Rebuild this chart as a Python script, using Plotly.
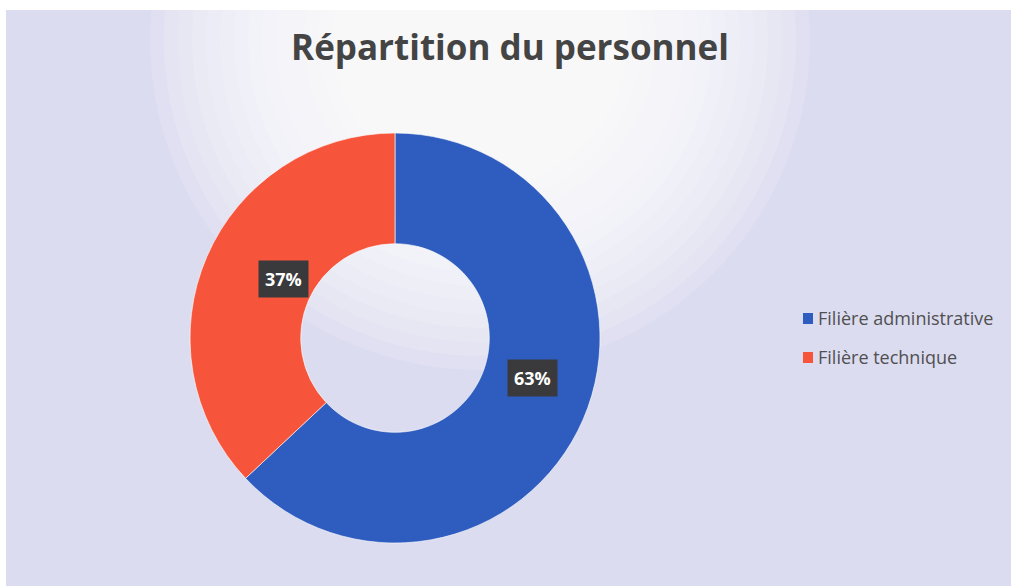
import math
import plotly.graph_objects as go

labels = ["Filière administrative", "Filière technique"]
values = [63, 37]
colors = ["#2e5cbf", "#f6553b"]

OX, OY = 6, 10  # white page margin (left, top) as in the scanned reference
W, H = 1011 - OX, 586 - OY
cx, cy, R = 395 - OX, 338 - OY, 205  # pixel center / radius of pie
hole = 0.46

fig = go.Figure()

# soft white glow behind the title
gx, gy = 480 - OX, 40 - OY
for i in range(14):
    r = 330 - i * 14
    fig.add_shape(type="circle", xref="paper", yref="paper",
                  x0=(gx - r) / W, x1=(gx + r) / W,
                  y0=1 - (gy + r) / H, y1=1 - (gy - r) / H,
                  fillcolor="white", opacity=0.13, line_width=0, layer="below")

fig.add_trace(go.Pie(
    labels=labels, values=values, hole=hole, sort=False,
    direction="clockwise", rotation=0,
    marker=dict(colors=colors, line=dict(color="rgba(255,255,255,0.6)", width=1)),
    textinfo="none", hoverinfo="label+percent", showlegend=False,
    domain=dict(x=[(cx - R) / W, (cx + R) / W], y=[1 - (cy + R) / H, 1 - (cy - R) / H]),
))

# percentage labels in dark boxes, placed at each slice's mid-angle
total = sum(values)
start = 0.0
rmid = R * (1 + hole) / 2
for v in values:
    frac = v / total
    mid = (start + frac / 2) * 2 * math.pi
    px = cx + rmid * math.sin(mid)
    py = cy - rmid * math.cos(mid)
    fig.add_annotation(x=px / W, y=1 - py / H, xref="paper", yref="paper",
                       text=f"<b>{round(frac*100)}%</b>", showarrow=False,
                       font=dict(family="Open Sans", size=18, color="white"),
                       bgcolor="#3a3a3c", borderpad=6)
    start += frac

# legend (custom, to match spacing)
lx, ly0, dy = 803 - OX, 318 - OY, 39
for i, (lab, col) in enumerate(zip(labels, colors)):
    y = ly0 + i * dy
    fig.add_shape(type="rect", xref="paper", yref="paper",
                  x0=lx / W, x1=(lx + 10) / W, y0=1 - (y + 6) / H, y1=1 - (y - 5) / H,
                  fillcolor=col, line_width=0)
    fig.add_annotation(x=(lx + 13) / W, y=1 - y / H, xref="paper", yref="paper",
                       text=lab, showarrow=False, xanchor="left", yanchor="middle",
                       font=dict(family="Open Sans", size=18, color="#505050"))

fig.update_layout(
    width=W, height=H,
    margin=dict(l=0, r=0, t=0, b=0),
    paper_bgcolor="#dcdcf1", plot_bgcolor="#dcdcf1",
    title=dict(text="<b>Répartition du personnel</b>", x=(510 - OX) / W, xanchor="center",
               y=1 - (48 - OY) / H, yanchor="middle",
               font=dict(family="Open Sans", size=35, color="#444444")),
    showlegend=False,
)

fig.write_html("out.html",
               post_script=f"document.body.style.margin='{OY}px 0 0 {OX}px';"
                           "document.body.style.overflow='hidden';")
